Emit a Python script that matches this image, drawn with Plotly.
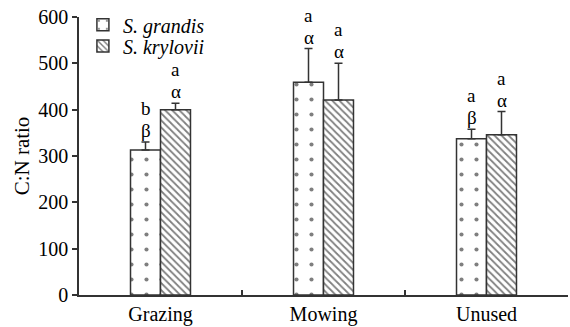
import plotly.graph_objects as go

categories = ["Grazing", "Mowing", "Unused"]
grandis = [313, 459, 337]
grandis_err = [17, 73, 21]
krylovii = [400, 421, 346]
krylovii_err = [14, 79, 50]
grandis_latin = ["b", "a", "a"]
grandis_greek = ["β", "α", "β"]
krylovii_latin = ["a", "a", "a"]
krylovii_greek = ["α", "α", "α"]

FONT = "Liberation Serif"
LINE = "#333333"

fig = go.Figure()
fig.add_trace(go.Bar(
    name="<i>S. grandis</i>", x=categories, y=grandis, legend="legend",
    error_y=dict(type="data", array=grandis_err, arrayminus=[0]*3, symmetric=False,
                 color=LINE, thickness=1.5, width=4),
    marker=dict(color="white", line=dict(color=LINE, width=1.5),
                pattern=dict(shape=".", fgcolor="black", bgcolor="white", size=15, solidity=0.06)),
))
fig.add_trace(go.Bar(
    name="<i>S. krylovii</i>", x=categories, y=krylovii, legend="legend2",
    error_y=dict(type="data", array=krylovii_err, arrayminus=[0]*3, symmetric=False,
                 color=LINE, thickness=1.5, width=4),
    marker=dict(color="white", line=dict(color=LINE, width=1.5),
                pattern=dict(shape="\\", fgcolor="black", bgcolor="white", size=5, solidity=0.35)),
))

afont = dict(family=FONT, size=19, color="black")
for i, c in enumerate(categories):
    gy = grandis[i] + grandis_err[i]
    ky = krylovii[i] + krylovii_err[i]
    fig.add_annotation(x=c, y=gy, text=grandis_greek[i], xshift=-15, yshift=-1,
                       showarrow=False, yanchor="bottom", font=afont)
    fig.add_annotation(x=c, y=gy, text=grandis_latin[i], xshift=-15, yshift=21,
                       showarrow=False, yanchor="bottom", font=afont)
    fig.add_annotation(x=c, y=ky, text=krylovii_greek[i], xshift=15, yshift=-1,
                       showarrow=False, yanchor="bottom", font=afont)
    fig.add_annotation(x=c, y=ky, text=krylovii_latin[i], xshift=15, yshift=21,
                       showarrow=False, yanchor="bottom", font=afont)

legfont = dict(family=FONT, size=20, color="black")
fig.update_layout(
    width=570, height=327,
    margin=dict(l=79, r=2, t=17, b=32, autoexpand=False),
    paper_bgcolor="white", plot_bgcolor="white",
    barmode="group", bargap=0.632, bargroupgap=0,
    showlegend=True,
    legend=dict(x=0.008, y=0.972, xanchor="left", yanchor="middle", font=legfont,
                bgcolor="rgba(0,0,0,0)", itemwidth=30),
    legend2=dict(x=0.008, y=0.896, xanchor="left", yanchor="middle", font=legfont,
                 bgcolor="rgba(0,0,0,0)", itemwidth=30),
    font=dict(family=FONT, size=20, color="black"),
)
fig.update_xaxes(showline=True, linecolor=LINE, linewidth=1.5, ticks="inside",
                 tickson="boundaries", ticklen=5, tickcolor=LINE, tickwidth=1.5,
                 showgrid=False, automargin=False,
                 tickfont=dict(family=FONT, size=20, color="black"))
fig.update_yaxes(range=[0, 600], tickvals=[0, 100, 200, 300, 400, 500, 600],
                 showline=True, linecolor=LINE, linewidth=1.5, ticks="outside",
                 ticklen=5, tickcolor=LINE, tickwidth=1.5, showgrid=False, zeroline=False,
                 automargin=False,
                 title=dict(text="C:N ratio", font=dict(family=FONT, size=21, color="black"), standoff=3),
                 tickfont=dict(family=FONT, size=20, color="black"))

fig.write_html("out.html", config={"displayModeBar": False},
               post_script="document.body.style.margin='0px';")
